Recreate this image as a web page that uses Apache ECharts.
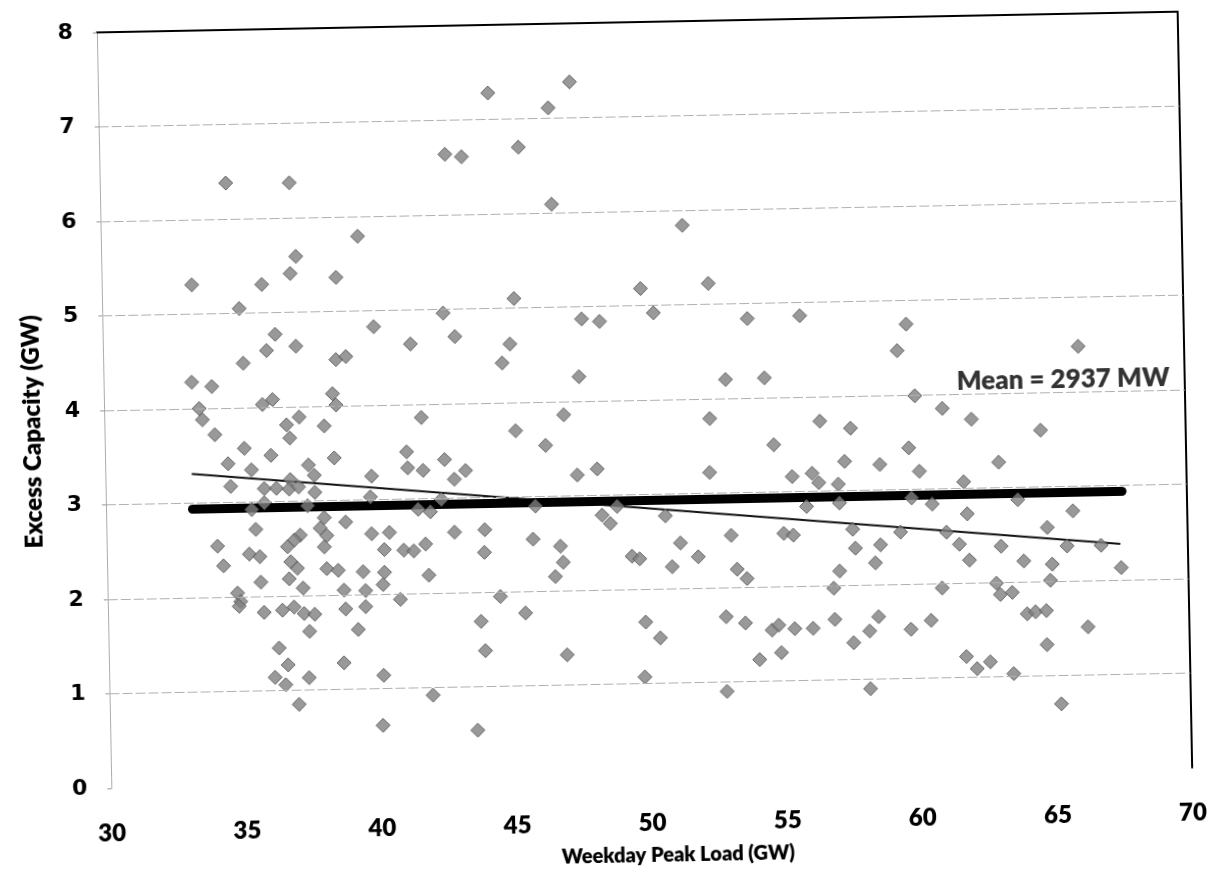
<!DOCTYPE html>
<html>
<head>
<meta charset="utf-8">
<script src="https://cdn.jsdelivr.net/npm/echarts/dist/echarts.min.js"></script>
<style>
  html, body { margin: 0; padding: 0; background: #fff; }
  #chart { width: 1214px; height: 882px; transform-origin: 644px 400px; transform: rotate(-1.1deg); }
</style>
</head>
<body>
<div id="chart"></div>
<script>
// Weekday peak load (GW) for each day
const loadGW = [
  34.66,37.01,39.50,37.20,36.98,38.67,33.33,35.92,35.07,40.03,36.38,37.14,36.05,35.18,38.61,38.98,33.26,34.00,38.46,35.86,36.24,38.58,
  47.45,44.42,46.64,45.51,42.79,43.40,46.70,49.93,50.39,45.24,42.61,47.73,48.39,43.03,41.38,45.06,44.76,47.59,
  51.52,52.44,53.86,55.80,59.73,59.38,53.01,54.45,60.00,66.08,
  33.52,33.63,37.21,36.74,38.13,34.08,36.85,35.16,36.14,38.48,34.55,37.52,35.41,37.73,39.85,36.84,34.63,35.87,36.32,36.79,
  37.14,37.74,39.79,35.86,35.39,37.46,38.07,38.86,35.53,37.91,38.15,39.81,37.17,36.69,36.95,38.05,34.10,35.27,35.66,34.31,
  36.80,37.04,38.13,38.55,39.47,36.73,35.68,37.24,38.75,39.55,34.81,34.92,34.86,35.78,36.46,36.89,37.26,37.65,38.80,39.54,
  37.45,39.25,36.31,36.63,38.70,36.14,36.53,37.40,37.01,
  41.73,47.00,45.21,46.31,41.16,42.56,41.19,41.76,43.33,42.91,47.46,48.20,42.41,41.55,42.00,45.89,48.91,48.35,48.65,40.47,
  42.88,44.00,45.78,46.79,40.27,40.99,41.36,41.80,43.97,46.88,49.43,49.71,40.26,41.90,46.58,40.20,40.83,44.53,45.45,43.80,
  49.89,43.94,46.96,40.16,49.82,41.97,40.10,43.60,
  52.40,56.47,57.60,54.75,59.74,57.36,58.66,52.36,55.41,56.15,56.39,57.11,60.12,55.92,57.14,59.81,50.69,53.11,55.06,55.41,
  57.61,59.38,51.23,57.70,58.63,51.88,50.91,53.31,53.67,57.10,58.43,56.87,50.42,52.87,53.58,54.56,54.81,55.40,56.08,56.89,
  58.51,58.17,57.57,59.70,54.08,54.89,52.85,58.16,
  61.01,62.08,64.63,63.06,61.75,60.57,63.74,61.86,65.77,64.81,61.08,61.55,63.09,65.53,66.79,61.91,63.92,64.97,67.52,64.89,
  60.88,62.89,63.03,63.47,64.01,64.32,64.72,60.45,66.25,64.72,61.73,62.61,62.12,63.47,65.21
];
// Excess capacity (GW) for each day
const excessGW = [
  6.38,6.37,5.79,5.59,5.41,5.36,5.31,5.30,5.05,4.83,4.77,4.64,4.60,4.47,4.49,4.52,4.28,4.23,4.13,4.03,4.08,4.01,
  7.38,7.28,7.11,6.70,6.64,6.61,6.09,5.18,4.92,5.10,4.96,4.87,4.84,4.71,4.64,4.62,4.42,4.26,
  5.84,5.22,4.84,4.86,4.75,4.47,4.20,4.21,3.99,4.48,
  4.00,3.88,3.89,3.81,3.79,3.72,3.67,3.57,3.49,3.45,3.41,3.38,3.34,3.27,3.25,3.23,3.17,3.14,3.14,3.13,
  3.15,3.09,3.03,2.99,2.92,2.95,2.82,2.77,2.71,2.71,2.63,2.64,2.64,2.52,2.59,2.51,2.54,2.45,2.42,2.33,
  2.36,2.29,2.28,2.26,2.24,2.18,2.15,2.08,2.05,2.04,2.04,1.95,1.90,1.83,1.85,1.88,1.81,1.80,1.85,1.87,
  1.62,1.63,1.45,1.27,1.28,1.14,1.06,1.13,0.85,
  3.86,3.86,3.70,3.54,3.50,3.41,3.33,3.30,3.29,3.20,3.22,3.28,2.99,2.89,2.86,2.90,2.88,2.79,2.70,2.65,
  2.64,2.66,2.55,2.47,2.47,2.46,2.45,2.52,2.42,2.30,2.35,2.32,2.23,2.19,2.15,2.10,1.94,1.95,1.77,1.69,
  1.65,1.38,1.32,1.14,1.07,0.92,0.61,0.54,
  3.79,3.74,3.66,3.50,3.44,3.31,3.27,3.22,3.16,3.19,3.09,3.07,3.19,2.84,2.87,2.91,2.77,2.55,2.56,2.54,
  2.59,2.55,2.48,2.39,2.42,2.33,2.23,2.19,2.09,2.15,2.23,1.97,1.48,1.69,1.62,1.54,1.59,1.55,1.55,1.64,
  1.66,1.51,1.39,1.52,1.23,1.30,0.90,0.90,
  3.85,3.73,3.60,3.27,3.07,2.84,2.87,2.73,2.74,2.57,2.54,2.41,2.38,2.37,2.37,2.24,2.22,2.18,2.13,2.01,
  1.95,1.99,1.87,1.89,1.66,1.68,1.69,1.61,1.51,1.33,1.22,1.16,1.09,1.03,0.70
];
// Mean line (GW) and linear trend endpoints
const meanX = [33.2, 67.6];
const meanY = [2.937, 2.937];
const trendX = [33.2, 67.5];
const trendY = [3.31, 2.38];
const meanLabelText = 'Mean = 2937 MW';
const meanLabelAt = [65.5, 4.13];
const gridYs = [1, 2, 3, 4, 5, 6, 7];
const xTitle = 'Weekday Peak Load (GW)';
const yTitle = 'Excess Capacity (GW)';

const titleFont = "Lato, 'Open Sans', sans-serif";
const heavy = 800;
const points = loadGW.map((x, i) => [x, excessGW[i]]);

const chart = echarts.init(document.getElementById('chart'), null, { renderer: 'canvas' });
chart.setOption({
  animation: false,
  backgroundColor: '#ffffff',
  grid: { left: 104, top: 22, width: 1081, height: 756, containLabel: false },
  xAxis: [{
    type: 'value', min: 30, max: 70, interval: 5,
    axisLine: { show: false, onZero: false },
    axisTick: { show: false },
    splitLine: { show: false },
    axisLabel: { fontFamily: titleFont, fontWeight: heavy, fontSize: 24, color: '#000', margin: 33 },
    name: xTitle, nameLocation: 'middle', nameGap: 68,
    nameTextStyle: { fontFamily: titleFont, fontWeight: heavy, fontSize: 20, color: '#000', padding: [0, 0, 0, 50] }
  }, {
    type: 'value', min: 30, max: 70, position: 'top',
    axisLine: { show: true, onZero: false, lineStyle: { color: '#000', width: 2 } },
    axisTick: { show: false }, axisLabel: { show: false }, splitLine: { show: false }
  }],
  yAxis: [{
    type: 'value', min: 0, max: 8, interval: 1,
    axisLine: { show: true, onZero: false, lineStyle: { color: '#9a9a9a', width: 1, type: 'dotted' } },
    axisTick: { show: true, length: 4, inside: false, lineStyle: { color: '#999' } },
    splitLine: { show: false },
    axisLabel: { fontFamily: 'DejaVu Sans', fontWeight: 'bold', fontSize: 22, color: '#000', margin: 24 },
    name: yTitle, nameLocation: 'middle', nameGap: 60,
    nameTextStyle: { fontFamily: titleFont, fontWeight: heavy, fontSize: 24, color: '#000', padding: [0, 40, 0, 0] }
  }, {
    type: 'value', min: 0, max: 8, position: 'right',
    axisLine: { show: true, onZero: false, lineStyle: { color: '#000', width: 2 } },
    axisTick: { show: false }, axisLabel: { show: false }, splitLine: { show: false }
  }],
  series: [
    {
      type: 'line', name: 'grid', data: [], silent: true,
      markLine: {
        silent: true, symbol: 'none', label: { show: false },
        lineStyle: { color: '#b0b0b0', width: 1, type: [10, 3] },
        data: gridYs.map(v => ({ yAxis: v }))
      }
    },
    {
      type: 'line', name: 'Trend', data: trendX.map((x, i) => [x, trendY[i]]),
      symbol: 'none', silent: true, z: 2,
      lineStyle: { color: '#111', width: 2 }
    },
    {
      type: 'line', name: 'Mean', data: meanX.map((x, i) => [x, meanY[i]]),
      symbol: 'none', silent: true, z: 2,
      lineStyle: { color: '#000', width: 9, cap: 'round' }
    },
    {
      type: 'scatter', name: 'Excess capacity', data: points, z: 3,
      symbol: 'diamond', symbolSize: 14,
      itemStyle: { color: '#808080', borderColor: '#505050', borderWidth: 1 }
    },
    {
      type: 'scatter', name: 'label', data: [meanLabelAt], symbolSize: 1, z: 4, silent: true,
      itemStyle: { color: 'rgba(0,0,0,0)' },
      label: { show: true, position: 'inside', formatter: meanLabelText,
               fontFamily: titleFont, fontWeight: heavy, fontSize: 26, color: '#000' }
    }
  ]
});
</script>
</body>
</html>
